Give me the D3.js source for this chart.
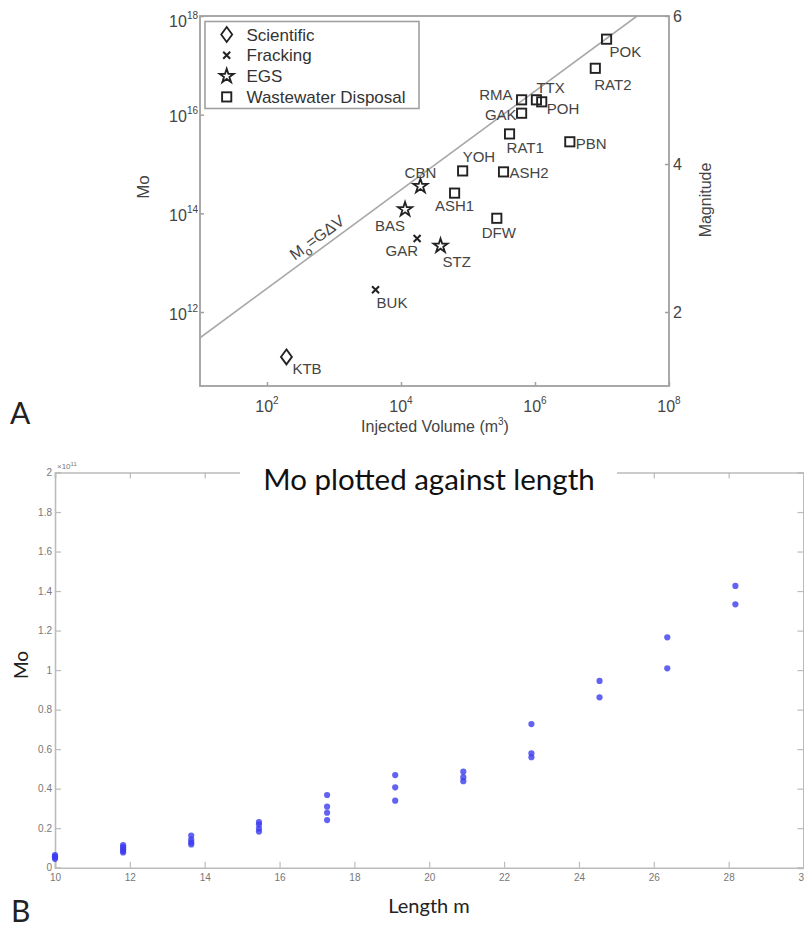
<!DOCTYPE html>
<html><head><meta charset="utf-8">
<script src="https://cdn.jsdelivr.net/npm/d3@7"></script>
<style>html,body{margin:0;padding:0;background:#fff;} svg{display:block;}</style>
</head><body>
<svg id="c" width="804" height="927"></svg>
<script>
// ---------- Panel A data ----------
const siteNames = ["KTB","BUK","GAR","BAS","CBN","STZ","YOH","ASH1","ASH2","DFW","RAT1","GAK","RMA","TTX","POH","PBN","RAT2","POK"];
const siteTypes = ["Scientific","Fracking","Fracking","EGS","EGS","EGS","Wastewater Disposal","Wastewater Disposal","Wastewater Disposal","Wastewater Disposal","Wastewater Disposal","Wastewater Disposal","Wastewater Disposal","Wastewater Disposal","Wastewater Disposal","Wastewater Disposal","Wastewater Disposal","Wastewater Disposal"];
const injectedVolume = [195, 4170, 17400, 11500, 19500, 38900, 83200, 63100, 339000, 269000, 417000, 631000, 631000, 1.05e6, 1.26e6, 3.31e6, 7.94e6, 1.17e7];
const seismicMoment = [1.23e11, 2.82e12, 3.09e13, 1.20e14, 3.55e14, 2.19e13, 7.24e14, 2.57e14, 6.92e14, 7.94e13, 4.07e15, 1.07e16, 2.0e16, 2.0e16, 1.82e16, 2.82e15, 8.71e16, 3.39e17];
const legendTypes = ["Scientific","Fracking","EGS","Wastewater Disposal"];
const volumeTicks = [1e2, 1e4, 1e6, 1e8];
const momentTicks = [1e12, 1e14, 1e16, 1e18];
const magnitudeTicks = [2, 4, 6];
const shearModulus = 3e10; // G in M0 = G·ΔV

// ---------- Panel B data ----------
const lengths = [10, 11.82, 13.64, 15.45, 17.27, 19.09, 20.91, 22.73, 24.55, 26.36, 28.18];
const moByLength = [
  [0.045, 0.052, 0.058, 0.064],
  [0.077, 0.085, 0.094, 0.104, 0.114],
  [0.118, 0.128, 0.142, 0.163],
  [0.183, 0.198, 0.218, 0.231],
  [0.241, 0.278, 0.309, 0.368],
  [0.339, 0.407, 0.469],
  [0.438, 0.458, 0.486],
  [0.559, 0.579, 0.727],
  [0.862, 0.945],
  [1.009, 1.166],
  [1.333, 1.426]
];
const lengthTicks = [10, 12, 14, 16, 18, 20, 22, 24, 26, 28, 30];
const moTicks = [0, 0.2, 0.4, 0.6, 0.8, 1, 1.2, 1.4, 1.6, 1.8, 2];

// ---------- layout / style ----------
const labelPlacement = {
  KTB:[6,12,"start"], BUK:[1,13,"start"], GAR:[1,12,"end"], BAS:[0,16,"end"], CBN:[0,-13,"middle"],
  STZ:[2,16,"start"], YOH:[0,-14,"start"], ASH1:[0,13,"middle"], ASH2:[6,1,"start"], DFW:[2,14,"middle"],
  RAT1:[-3,14,"start"], GAK:[-5,2,"end"], RMA:[-9,-5,"end"], TTX:[0,-12,"start"], POH:[5,7,"start"],
  PBN:[6,2,"start"], RAT2:[-1,16,"start"], POK:[3,13,"start"]
};
const svg = d3.select("#c");
const fA = "'Liberation Sans', Arial, Helvetica, sans-serif";
const fC = "Lato, 'Open Sans', sans-serif";
const ink = "#222", txt = "#444", axc = "#a0a0a0";

// ================= Panel A =================
const A = {l:200, r:669, t:16, b:386};
const xA = d3.scaleLog().domain([1e1, 1e8]).range([A.l, A.r]);
const yA = d3.scaleLog().domain([Math.pow(10,10.5), 1e18]).range([A.b, A.t]);
const mag = d3.scaleLinear().domain([1, 6]).range([A.b, A.t]);
const gA = svg.append("g");

gA.append("defs").append("clipPath").attr("id","clipA").append("rect")
  .attr("x",A.l).attr("y",A.t).attr("width",A.r-A.l).attr("height",A.b-A.t);

// M0 = G dV line
const vLine = [1e1, 1e18/shearModulus];
gA.append("path").attr("clip-path","url(#clipA)")
  .attr("d", d3.line().x(v=>xA(v)).y(v=>yA(shearModulus*v))(vLine))
  .attr("fill","none").attr("stroke","#a8a8a8").attr("stroke-width",1.6);
{
  const v0 = 1e3, v1 = 1e4;
  const ang = Math.atan2(yA(shearModulus*v1)-yA(shearModulus*v0), xA(v1)-xA(v0))*180/Math.PI;
  const vm = 700;
  const px = xA(vm), py = yA(shearModulus*vm);
  const t = gA.append("text").attr("transform",`translate(${px},${py}) rotate(${ang}) translate(0,-6)`)
    .attr("text-anchor","middle").attr("font-family",fA).attr("font-size",16).attr("fill",txt);
  t.append("tspan").text("M");
  t.append("tspan").attr("font-size",12).attr("dy",5).text("o");
  t.append("tspan").attr("dy",-5).text("=GΔV");
}

// frame
gA.append("rect").attr("x",A.l).attr("y",A.t).attr("width",A.r-A.l).attr("height",A.b-A.t)
  .attr("fill","none").attr("stroke",axc).attr("stroke-width",1.8);

// axes ticks (inward)
const axB = gA.append("g").attr("transform",`translate(0,${A.b})`)
  .call(d3.axisBottom(xA).tickValues(volumeTicks).tickSize(-4).tickFormat(""));
const axL = gA.append("g").attr("transform",`translate(${A.l},0)`)
  .call(d3.axisLeft(yA).tickValues(momentTicks).tickSize(-4).tickFormat(""));
const axR = gA.append("g").attr("transform",`translate(${A.r},0)`)
  .call(d3.axisRight(mag).tickValues(magnitudeTicks).tickSize(-4).tickPadding(4)
  .tickFormat(d3.format("d")));
[axB,axL,axR].forEach(a=>{a.select(".domain").remove();a.selectAll("line").attr("stroke",axc).attr("stroke-width",1.5);});
axR.selectAll("text").attr("font-family",fA).attr("font-size",16).attr("fill",txt).attr("dy","0.35em");

// bottom tick labels with superscript
volumeTicks.forEach(v=>{
  const e = Math.round(Math.log10(v));
  const t = gA.append("text").attr("x",xA(v)).attr("y",A.b+25.5).attr("text-anchor","middle")
    .attr("font-family",fA).attr("font-size",16).attr("fill",txt);
  t.append("tspan").text("10");
  t.append("tspan").attr("font-size",10).attr("dy",-8).text(e);
});
momentTicks.forEach(m=>{
  const e = Math.round(Math.log10(m));
  const y0 = yA(m) + (e===18 ? 10.5 : 7.5);
  const t = gA.append("text").attr("x",A.l-2).attr("y",y0).attr("text-anchor","end")
    .attr("font-family",fA).attr("font-size",16).attr("fill",txt);
  t.append("tspan").text("10");
  t.append("tspan").attr("font-size",10).attr("dy",-8).text(e);
});

// axis titles
gA.append("text").attr("transform",`translate(149,187) rotate(-90)`).attr("text-anchor","middle")
  .attr("font-family",fA).attr("font-size",17).attr("fill",txt).text("Mo");
gA.append("text").attr("transform",`translate(711,200) rotate(-90)`).attr("text-anchor","middle")
  .attr("font-family",fA).attr("font-size",16).attr("fill",txt).text("Magnitude");
{
  const t = gA.append("text").attr("x",435).attr("y",432).attr("text-anchor","middle")
    .attr("font-family",fA).attr("font-size",16).attr("fill",txt);
  t.append("tspan").text("Injected Volume (m");
  t.append("tspan").attr("font-size",10).attr("dy",-7).text("3");
  t.append("tspan").attr("dy",7).text(")");
}

// markers
function drawMarker(g, type, x, y){
  if(type==="Scientific"){
    g.append("path").attr("d",`M${x},${y-7.5}L${x+5.5},${y}L${x},${y+7.5}L${x-5.5},${y}Z`)
      .attr("fill","none").attr("stroke",ink).attr("stroke-width",1.8);
  } else if(type==="Fracking"){
    const s=3.5;
    g.append("path").attr("d",`M${x-s},${y-s}L${x+s},${y+s}M${x-s},${y+s}L${x+s},${y-s}`)
      .attr("fill","none").attr("stroke",ink).attr("stroke-width",2);
  } else if(type==="EGS"){
    g.append("path").attr("transform",`translate(${x},${y})`)
      .attr("d",d3.symbol().type(d3.symbolStar).size(62)())
      .attr("fill","none").attr("stroke",ink).attr("stroke-width",1.8).attr("stroke-linejoin","miter");
  } else {
    g.append("rect").attr("x",x-4.6).attr("y",y-4.6).attr("width",9.2).attr("height",9.2)
      .attr("fill","none").attr("stroke",ink).attr("stroke-width",1.9);
  }
}
const gm = gA.append("g");
siteNames.forEach((n,i)=>{
  const x = xA(injectedVolume[i]), y = yA(seismicMoment[i]);
  drawMarker(gm, siteTypes[i], x, y);
  const p = labelPlacement[n];
  gm.append("text").attr("x",x+p[0]).attr("y",y+p[1]).attr("dy","0.35em").attr("text-anchor",p[2])
    .attr("font-family",fA).attr("font-size",15).attr("fill",txt).text(n);
});

// legend
{
  const lg = gA.append("g");
  lg.append("rect").attr("x",205).attr("y",21.5).attr("width",214).attr("height",87)
    .attr("fill","#fff").attr("stroke",axc).attr("stroke-width",1.6);
  legendTypes.forEach((t,i)=>{
    const y = 34.5 + i*20.8;
    drawMarker(lg, t, 226.7, y);
    lg.append("text").attr("x",246.5).attr("y",y).attr("dy","0.36em")
      .attr("font-family",fA).attr("font-size",17).attr("fill","#333").text(t);
  });
}
svg.append("text").attr("x",10).attr("y",424).attr("font-family",fC).attr("font-size",30).attr("fill","#222").text("A");

// ================= Panel B =================
const B = {l:55, r:803.5, t:472.5, b:867.7};
const xB = d3.scaleLinear().domain([10,30]).range([B.l, B.r]);
const yB = d3.scaleLinear().domain([0,2]).range([B.b, B.t]);
const gB = svg.append("g");
const axcB = "#bcbcbc", tickTxt = "#777";

const bx = gB.append("g").attr("transform",`translate(0,${B.b})`)
  .call(d3.axisBottom(xB).tickValues(lengthTicks).tickSize(-6).tickPadding(6.5).tickFormat(d3.format("d")));
const tx = gB.append("g").attr("transform",`translate(0,${B.t})`)
  .call(d3.axisTop(xB).tickValues(lengthTicks).tickSize(-6).tickFormat(""));
const ly = gB.append("g").attr("transform",`translate(${B.l},0)`)
  .call(d3.axisLeft(yB).tickValues(moTicks).tickSize(-6).tickPadding(3).tickFormat(d3.format("")));
const ry = gB.append("g").attr("transform",`translate(${B.r},0)`)
  .call(d3.axisRight(yB).tickValues(moTicks).tickSize(-6).tickFormat(""));
[bx,tx,ly,ry].forEach(a=>{
  a.select(".domain").attr("stroke",axcB).attr("stroke-width",1.6);
  a.selectAll("line").attr("stroke",axcB).attr("stroke-width",1.2);
  a.selectAll("text").attr("font-family",fA).attr("font-size",10).attr("fill",tickTxt);
});
ry.select(".domain").attr("stroke-width",2);

// exponent marker
{
  const t = gB.append("text").attr("x",57).attr("y",469).attr("font-family",fA).attr("font-size",8).attr("fill",tickTxt);
  t.append("tspan").text("×10");
  t.append("tspan").attr("font-size",6).attr("dy",-3).text("11");
}

// points
const pts = [];
lengths.forEach((L,i)=>moByLength[i].forEach(v=>pts.push([L,v])));
gB.append("g").selectAll("circle").data(pts).join("circle")
  .attr("cx",d=>xB(d[0])).attr("cy",d=>yB(d[1])).attr("r",3.1)
  .attr("fill","#3c3cf0").attr("fill-opacity",0.8);

// title with white box
gB.append("rect").attr("x",240).attr("y",460).attr("width",377).attr("height",42).attr("fill","#fff");
gB.append("text").attr("x",429).attr("y",490).attr("text-anchor","middle")
  .attr("font-family",fC).attr("font-size",29.5).attr("fill","#111").text("Mo plotted against length");

gB.append("text").attr("transform",`translate(28,665) rotate(-90)`).attr("text-anchor","middle")
  .attr("font-family",fC).attr("font-size",19).attr("fill","#222").text("Mo");
gB.append("text").attr("x",429).attr("y",913).attr("text-anchor","middle")
  .attr("font-family",fC).attr("font-size",20).attr("fill","#222").text("Length m");
svg.append("text").attr("x",11).attr("y",922).attr("font-family",fC).attr("font-size",30).attr("fill","#222").text("B");
</script>
</body></html>
